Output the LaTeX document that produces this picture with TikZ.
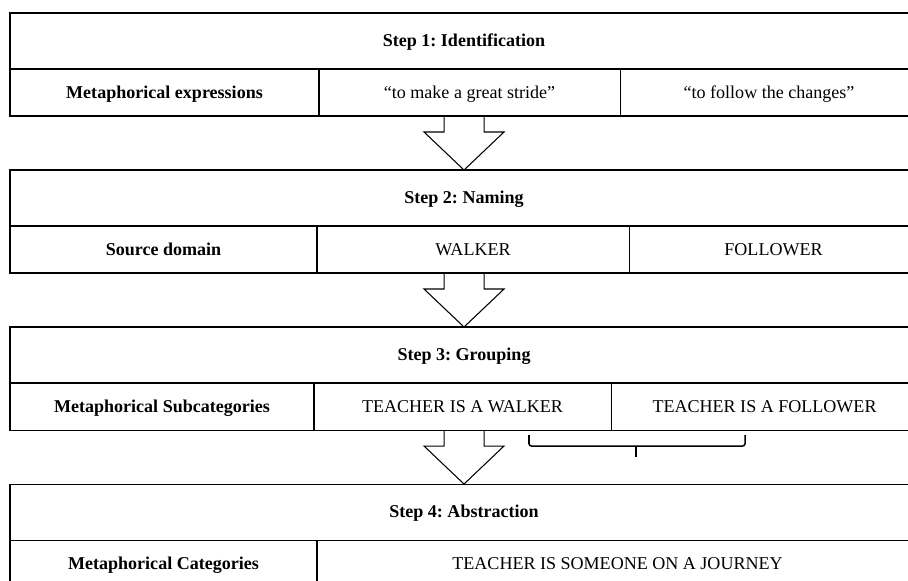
\documentclass[tikz,border=0pt]{standalone}
\usepackage{fontspec}
\setmainfont{Liberation Serif}
\usetikzlibrary{positioning}
\frenchspacing

\begin{document}
\begin{tikzpicture}[
    x=0.03cm, y=-0.03cm,
    node distance=0pt,
    font=\fontsize{15.4}{18}\selectfont,
    header/.style={rectangle, draw, line width=0.9pt, outer sep=0pt, minimum width=27.24cm, minimum height=1.68cm, inner sep=0pt, text height=2.3ex, text depth=0.2ex, font=\fontsize{15.4}{18}\selectfont\bfseries},
    cell/.style={rectangle, draw, line width=0.9pt, outer sep=0pt, minimum height=1.41cm, inner sep=0pt, text height=2.3ex, text depth=0.2ex},
    labelcell/.style={cell, font=\fontsize{15.4}{18}\selectfont\bfseries},
    blockarrow/.style={draw, line width=0.9pt, line join=miter},
    bracket/.style={draw, line width=1.3pt, rounded corners=2pt}
]
\useasboundingbox (0,0) rectangle (908,580);
\clip (0,0) rectangle (908,580);

% step 1
\node[header, anchor=north west] (step1) at (10,13) {Step 1: Identification};
\node[labelcell, minimum width=9.27cm, below right=of step1.south west] (expr) {Metaphorical expressions};
\node[cell, minimum width=9.03cm, right=of expr] (stride) {“to make a great stride”};
\node[cell, minimum width=8.94cm, right=of stride] (follow) {“to follow the changes”};

% step 2
\node[header, below right=1.62cm and 0cm of expr.south west] (step2) {Step 2: Naming};
\node[labelcell, minimum width=9.21cm, below right=of step2.south west] (source) {Source domain};
\node[cell, minimum width=9.36cm, right=of source] (walker) {WALKER};
\node[cell, minimum width=8.67cm, right=of walker] (follower) {FOLLOWER};

% step 3
\node[header, below right=1.62cm and 0cm of source.south west] (step3) {Step 3: Grouping};
\node[labelcell, minimum width=9.12cm, below right=of step3.south west] (subcat) {Metaphorical Subcategories};
\node[cell, minimum width=8.91cm, right=of subcat] (isWalker) {TEACHER IS A WALKER};
\node[cell, minimum width=9.21cm, right=of isWalker] (isFollower) {TEACHER IS A FOLLOWER};

% step 4
\node[header, below right=1.62cm and 0cm of subcat.south west] (step4) {Step 4: Abstraction};
\node[labelcell, minimum width=9.21cm, below right=of step4.south west] (cat) {Metaphorical Categories};
\node[cell, minimum width=18.03cm, right=of cat] (journey) {TEACHER IS SOMEONE ON A JOURNEY};

% block arrows between the steps
\foreach \tip in {step2, step3, step4} {
    \draw[blockarrow] (\tip.north) ++(-20,-54) -- ++(0,16) -- ++(-20,0) -- (\tip.north)
        -- ++(40,-38) -- ++(-20,0) -- ++(0,-16);
}

% bracket under the subcategories
\coordinate (braceL) at (529,435);
\coordinate (braceR) at (745,435);
\coordinate (braceM) at (636,446);
\draw[bracket] (braceL) -- ++(0,11) -| (braceR);
\draw[bracket] (braceM) -- ++(0,11);

\end{tikzpicture}
\end{document}
